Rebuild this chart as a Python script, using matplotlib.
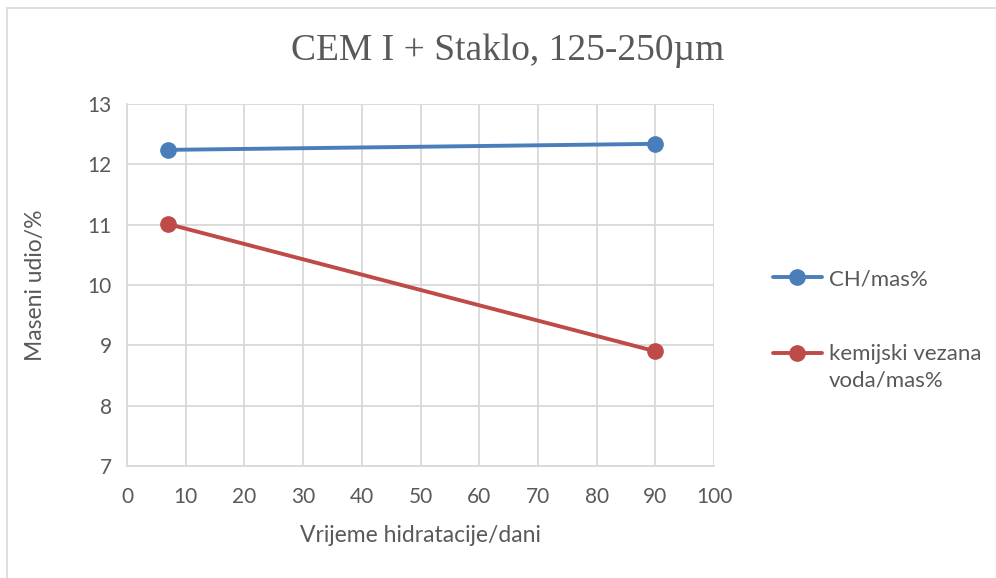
import matplotlib
matplotlib.use("Agg")
import matplotlib.pyplot as plt
from matplotlib.lines import Line2D
from matplotlib.legend_handler import HandlerLine2D

days = [7, 90]
ch = [12.24, 12.34]
voda = [11.01, 8.90]
series_names = ["CH/mas%", "kemijski vezana\nvoda/mas%"]
xticks = list(range(0, 101, 10))
yticks = list(range(7, 14))

txt = "#595959"
grid = "#d9d9d9"
blue = "#4a7ebb"
red = "#be4b48"

plt.rcParams['font.family'] = ['Lato', 'DejaVu Sans']


class TopHandler(HandlerLine2D):
    """Align legend handle with the first line of a multi-line label."""
    def __init__(self, shift=0, **kw):
        super().__init__(**kw)
        self.shift = shift

    def create_artists(self, legend, orig_handle, xdescent, ydescent,
                       width, height, fontsize, trans):
        return super().create_artists(legend, orig_handle, xdescent,
                                      ydescent - self.shift, width, height,
                                      fontsize, trans)


fig = plt.figure(figsize=(9.96, 5.78), dpi=100)
ax = fig.add_axes([0.1275, 0.194, 0.5895, 0.626])

l1, = ax.plot(days, ch, color=blue, lw=2.8, marker='o', ms=11, label=series_names[0], solid_capstyle='round')
l2, = ax.plot(days, voda, color=red, lw=2.8, marker='o', ms=11, label=series_names[1], solid_capstyle='round')

ax.set_xlim(0, 100)
ax.set_ylim(7, 13)
ax.set_xticks(xticks)
ax.set_yticks(yticks)
ax.grid(True, color=grid, lw=1.3)
ax.set_axisbelow(True)
for s in ['top', 'right']:
    ax.spines[s].set_visible(False)
for s in ['left', 'bottom']:
    ax.spines[s].set_color(grid)
    ax.spines[s].set_linewidth(1.3)
ax.tick_params(length=0, labelsize=15, colors=txt)
ax.tick_params(axis='x', pad=15)
ax.tick_params(axis='y', pad=11)

ax.set_xlabel("Vrijeme hidratacije/dani", fontsize=16.5, color=txt, labelpad=13)
ax.set_ylabel("Maseni udio/%", fontsize=16.5, color=txt, labelpad=30)

fig.text(0.51, 0.912, "CEM I + Staklo, 125-250µm", ha='center', va='center',
         fontsize=27, color=txt, family=['Liberation Serif', 'DejaVu Serif'])

leg = fig.legend(handles=[l1, l2], loc='upper left', bbox_to_anchor=(0.756, 0.569), frameon=False,
                 fontsize=16, labelcolor=txt, handlelength=2.2, handletextpad=0.3,
                 labelspacing=2.45,
                 handler_map={l2: TopHandler(shift=21)})
for t in leg.get_texts():
    t.set_linespacing(1.45)

# chart area border
fig.add_artist(Line2D([0.0075, 1.0], [0.986, 0.986], transform=fig.transFigure, color=grid, lw=1.2))
fig.add_artist(Line2D([0.0075, 0.0075], [0.0, 0.986], transform=fig.transFigure, color=grid, lw=1.2))

fig.savefig("out.png", dpi=100)
